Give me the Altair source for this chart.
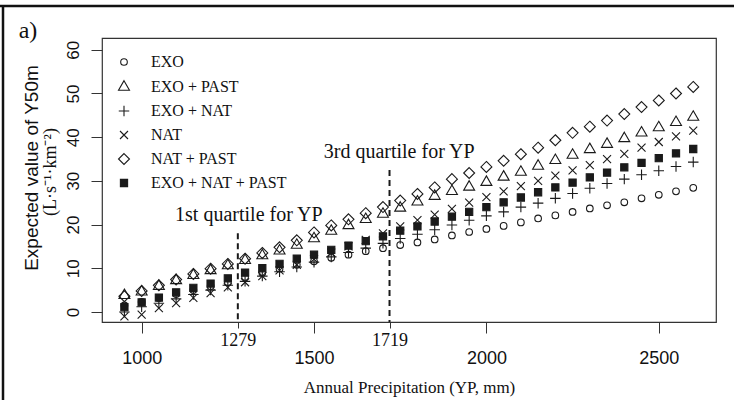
import altair as alt
import pandas as pd

# Annual precipitation classes (mm)
precip = [950, 1000, 1050, 1100, 1150, 1200, 1250, 1300, 1350, 1400, 1450, 1500,
          1550, 1600, 1650, 1700, 1750, 1800, 1850, 1900, 1950, 2000, 2050, 2100,
          2150, 2200, 2250, 2300, 2350, 2400, 2450, 2500, 2550, 2600]

# Expected value of Y50m (L s-1 km-2) per model
exo = [1.5, 2.3, 3.2, 4.1, 5.0, 5.9, 6.8, 8.0, 9.0, 9.9, 10.8, 11.6,
       12.4, 13.1, 13.9, 14.6, 15.3, 15.9, 16.6, 17.5, 18.3, 19.0, 19.7, 20.5,
       21.4, 22.1, 22.9, 23.7, 24.4, 25.1, 26.0, 26.8, 27.6, 28.4]
exo_past = [3.8, 4.6, 5.9, 7.2, 8.4, 9.5, 10.6, 11.8, 12.9, 14.0, 15.3, 16.8,
            18.5, 19.8, 21.2, 22.4, 23.8, 25.2, 26.5, 27.6, 28.6, 29.7, 30.9, 32.0,
            33.4, 34.7, 35.9, 37.2, 38.4, 39.7, 41.0, 42.2, 43.4, 44.6]
exo_nat = [0.0, 1.2, 2.0, 3.0, 4.0, 5.0, 6.1, 7.0, 8.2, 9.2, 10.3, 11.4,
           12.6, 13.6, 14.6, 15.7, 16.8, 17.8, 18.8, 19.9, 21.0, 22.0, 22.9, 24.0,
           24.9, 26.0, 27.1, 28.3, 29.4, 30.4, 31.4, 32.3, 33.3, 34.3]
nat = [-1.0, -0.6, 0.9, 2.0, 3.2, 4.3, 5.6, 6.8, 8.2, 9.5, 10.8, 12.1,
       13.6, 15.0, 16.5, 18.0, 19.6, 21.0, 22.3, 23.6, 25.0, 26.3, 27.6, 28.8,
       30.0, 31.2, 32.4, 33.6, 35.0, 36.2, 37.6, 38.9, 40.2, 41.5]
nat_past = [3.6, 4.8, 6.1, 7.4, 8.7, 9.9, 11.0, 12.2, 13.5, 14.8, 16.4, 18.2,
            19.8, 21.2, 22.6, 24.0, 25.5, 27.0, 28.5, 30.4, 31.8, 33.2, 34.6, 36.1,
            37.6, 39.3, 41.0, 42.4, 43.8, 45.3, 46.9, 48.4, 50.0, 51.5]
exo_nat_past = [1.1, 2.2, 3.3, 4.5, 5.5, 6.5, 7.7, 9.0, 10.0, 11.0, 12.2, 13.1,
                14.2, 15.2, 16.2, 17.3, 18.6, 19.6, 20.7, 21.8, 22.9, 24.0, 25.1, 26.2,
                27.4, 28.5, 29.6, 30.8, 31.9, 33.1, 34.1, 35.2, 36.3, 37.3]

series_names = ["EXO", "EXO + PAST", "EXO + NAT", "NAT", "NAT + PAST", "EXO + NAT + PAST"]
series_values = [exo, exo_past, exo_nat, nat, nat_past, exo_nat_past]

# Quartiles of annual precipitation and the height of their marker lines
quartile_x = [1279, 1719]
quartile_top = [18.0, 32.5]
quartile_text = ["1st quartile for YP", "3rd quartile for YP"]
quartile_text_x = [1311, 1747]
quartile_text_y = [22.2, 36.6]

main_ticks = [1000, 1500, 2000, 2500]
y_ticks = [0, 10, 20, 30, 40, 50, 60]

rows = []
for name, vals in zip(series_names, series_values):
    for p, v in zip(precip, vals):
        rows.append({"precip": p, "value": v, "series": name})
df = pd.DataFrame(rows)

quart_df = pd.DataFrame({"q": quartile_x, "top": quartile_top})
note_df = pd.DataFrame({"x": quartile_text_x, "y": quartile_text_y, "label": quartile_text})
one = pd.DataFrame({"k": [0]})

SERIF = "Liberation Serif"
SANS = "Liberation Sans"
INK = "#1a1a1a"

TRI = "M0,-1.15L1,0.58L-1,0.58Z"
DIAMOND = "M0,-1L1,0L0,1L-1,0Z"
PLUS = "M-1,0L1,0M0,-1L0,1"
CROSS = "M-1,-1L1,1M-1,1L1,-1"

shapes = ["circle", TRI, PLUS, CROSS, DIAMOND, "square"]
sizes = [44, 120, 110, 64, 120, 52]
fills = ["transparent"] * 5 + [INK]
strokes = [INK] * 6

xscale = alt.Scale(domain=[885, 2666], nice=False, zero=False)
yscale = alt.Scale(domain=[-2.3, 62.7], nice=False, zero=False)

is_q = "datum.value == 1279 || datum.value == 1719"


def cond(a, b):
    return {"condition": {"test": is_q, "value": a}, "value": b}


xaxis = alt.Axis(
    values=main_ticks + quartile_x,
    format="d",
    domain=False, grid=False,
    tickColor="#333", tickWidth=1,
    tickSize=cond(6, 11),
    labelFont=cond(SERIF, SANS),
    labelFontSize=18,
    labelPadding=cond(3, 16),
    labelColor="#111",
    labelFlush=False,
    title="Annual Precipitation (YP, mm)",
    titleFont=SERIF, titleFontSize=17, titleFontWeight="normal", titleColor="#111",
    titleBaseline="middle", titleY=65,
)
yaxis = alt.Axis(
    values=y_ticks, domain=False, grid=False,
    tickColor="#333", tickWidth=1, tickSize=11,
    labelFont=SANS, labelFontSize=17, labelColor="#111",
    labelAngle=270, labelAlign="center", labelBaseline="alphabetic",
    labelPadding=13, labelFlush=False,
    title=None,
)

legend = alt.Legend(
    title=None, orient="none", legendX=14, legendY=16,
    labelFont=SERIF, labelFontSize=16, labelColor="#111",
    labelOffset=19, rowPadding=8, padding=0,
    symbolStrokeWidth=1.1,
)

points = alt.Chart(df).mark_point(opacity=1, strokeWidth=1.1).encode(
    x=alt.X("precip:Q", scale=xscale, axis=xaxis),
    y=alt.Y("value:Q", scale=yscale, axis=yaxis),
    shape=alt.Shape("series:N", scale=alt.Scale(domain=series_names, range=shapes), legend=legend),
    size=alt.Size("series:N", scale=alt.Scale(type="ordinal", domain=series_names, range=sizes), legend=legend),
    fill=alt.Fill("series:N", scale=alt.Scale(domain=series_names, range=fills), legend=legend),
    stroke=alt.Stroke("series:N", scale=alt.Scale(domain=series_names, range=strokes), legend=legend),
)

qlines = alt.Chart(quart_df).mark_rule(color=INK, strokeWidth=2, strokeDash=[6, 4]).encode(
    x=alt.X("q:Q", scale=xscale),
    y=alt.Y("top:Q", scale=yscale),
    y2=alt.value(284),
)

notes = alt.Chart(note_df).mark_text(font=SERIF, fontSize=20, color="#111").encode(
    x=alt.X("x:Q", scale=xscale),
    y=alt.Y("y:Q", scale=yscale),
    text="label:N",
)

ytitle1 = alt.Chart(one).mark_text(font=SANS, fontSize=19, color="#111", angle=270).encode(
    x=alt.value(-70), y=alt.value(130), text=alt.value("Expected value of Y50m"))
ytitle2 = alt.Chart(one).mark_text(font=SERIF, fontSize=18, color="#111", angle=270).encode(
    x=alt.value(-51), y=alt.value(134), text=alt.value("(L\u00b7s\u207b\u00b9\u00b7km\u207b\u00b2)"))
panel = alt.Chart(one).mark_text(font=SERIF, fontSize=24, color="#111").encode(
    x=alt.value(-74), y=alt.value(-7), text=alt.value("a)"))

frame_top = alt.Chart(one).mark_rule(color="#111", strokeWidth=2.5).encode(
    x=alt.value(-102), x2=alt.value(632), y=alt.value(-32))
frame_left = alt.Chart(one).mark_rule(color="#111", strokeWidth=2.5).encode(
    x=alt.value(-99), y=alt.value(-33), y2=alt.value(362))

chart = alt.layer(
    qlines, points, notes, ytitle1, ytitle2, panel, frame_top, frame_left
).properties(
    width=614, height=284,
    padding={"left": 102, "top": 38, "right": 18, "bottom": 78},
    autosize="none",
).configure_view(
    stroke="#333", strokeWidth=1.2,
)

chart.save("out.html", embed_options={"renderer": "svg", "actions": False})
